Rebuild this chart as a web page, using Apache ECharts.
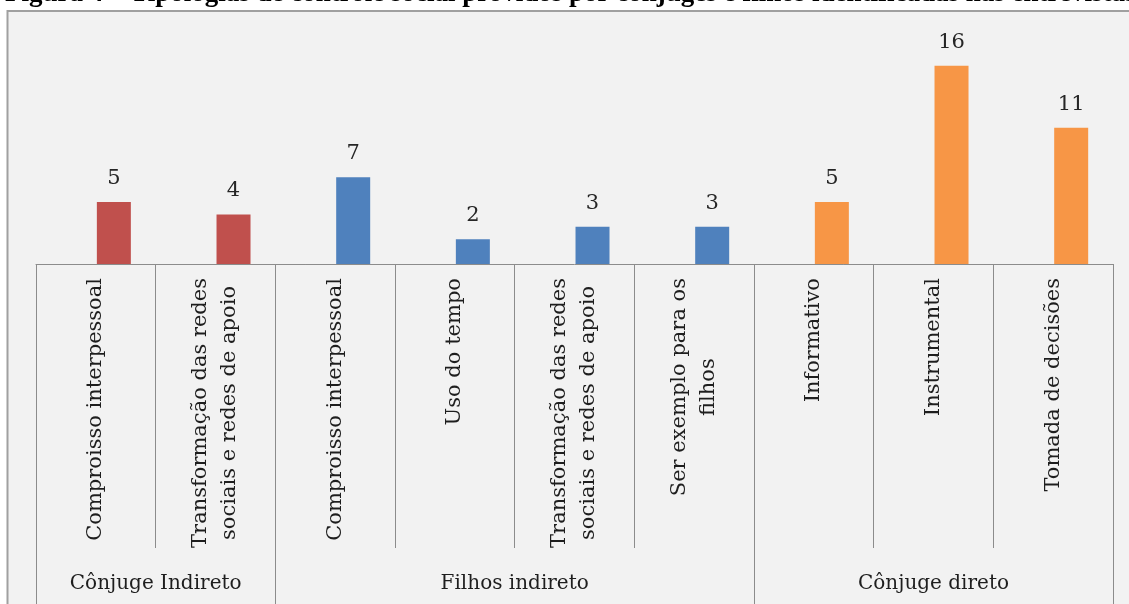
<!DOCTYPE html>
<html><head><meta charset="utf-8">
<script src="https://cdn.jsdelivr.net/npm/echarts@6/dist/echarts.min.js"></script>
<style>html,body{margin:0;padding:0;background:#fff}#c{width:1129px;height:604px}</style>
</head><body><div id="c"></div>
<script>
const titleText = 'Figura 4 – Tipologias de controle social providos por cônjuges e filhos identificadas nas entrevistas';
const categories = [
  'Comproisso interpessoal',
  'Transformação das redes\nsociais e redes de apoio',
  'Comproisso interpessoal',
  'Uso do tempo',
  'Transformação das redes\nsociais e redes de apoio',
  'Ser exemplo para os\nfilhos',
  'Informativo',
  'Instrumental',
  'Tomada de decisões'
];
const values = [5, 4, 7, 2, 3, 3, 5, 16, 11];
const groupNames = ['Cônjuge Indireto', 'Filhos indireto', 'Cônjuge direto'];
const groupSizes = [2, 4, 3];
const groupColors = ['#c0504d', '#4f81bd', '#f79646'];

// derived
const groupOf = [];
groupSizes.forEach((n, g) => { for (let k = 0; k < n; k++) groupOf.push(g); });
const bounds = [0];
groupSizes.forEach(n => bounds.push(bounds[bounds.length - 1] + n));
const centers = groupSizes.map((n, g) => bounds[g] + n / 2);

const FONT = 'DejaVu Serif';
const chart = echarts.init(document.getElementById('c'));
chart.setOption({
  backgroundColor: '#ffffff',
  animation: false,
  title: {
    text: titleText, left: 0, top: -24,
    textStyle: { fontFamily: 'Liberation Serif', fontWeight: 'bold', fontSize: 27, color: '#000' }
  },
  graphic: [{
    type: 'rect', z: -100, silent: true,
    shape: { x: 7.5, y: 11, width: 1300, height: 800 },
    style: { fill: '#f2f2f2', stroke: '#a0a0a0', lineWidth: 2 }
  }],
  grid: { left: 36, right: 16, top: 41, bottom: 340, outerBoundsMode: 'none', containLabel: false },
  xAxis: [{
    type: 'category', data: categories, position: 'bottom',
    axisLine: { show: true, lineStyle: { color: '#8c8c8c', width: 1 } },
    axisTick: { show: true, interval: 0, length: 284, lineStyle: { color: '#8c8c8c', width: 1 } },
    axisLabel: {
      interval: 0, rotate: 90, margin: 14, color: '#1e1e1e',
      fontFamily: FONT, fontSize: 21, lineHeight: 29,
      formatter: v => v.split('\n').map(l => '{c|' + l + '}').join('\n'),
      rich: { c: { fontFamily: FONT, fontSize: 21, lineHeight: 29, align: 'center', color: '#1e1e1e' } }
    },
    splitLine: { show: false }
  }, {
    type: 'value', min: 0, max: bounds[bounds.length - 1], position: 'bottom',
    axisLine: { show: false },
    splitLine: { show: false },
    axisTick: { show: true, customValues: bounds, length: 345, lineStyle: { color: '#8c8c8c', width: 1 } },
    axisLabel: {
      customValues: centers, margin: 310, color: '#1e1e1e',
      fontFamily: FONT, fontSize: 20,
      formatter: v => groupNames[centers.indexOf(v)] || ''
    }
  }],
  yAxis: { type: 'value', min: 0, max: 18, show: false, splitLine: { show: false } },
  series: [{
    type: 'bar', name: 'spacer', data: categories.map(() => null),
    barWidth: 34, barGap: '6%', silent: true
  }, {
    type: 'bar', name: 'valores',
    barWidth: 34, barGap: '6%',
    data: values.map((v, i) => ({ value: v, itemStyle: { color: groupColors[groupOf[i]] } })),
    label: { show: true, position: 'top', distance: 13, fontFamily: FONT, fontSize: 21, color: '#262626' }
  }]
});
</script></body></html>
